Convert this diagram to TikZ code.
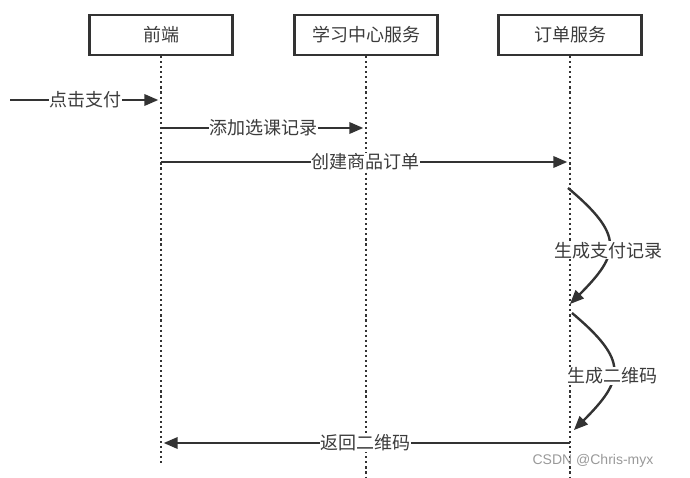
\documentclass[tikz,border=0pt]{standalone}
\usepackage{fontspec}
\newfontfamily\cjk{Noto Sans CJK SC}
\newfontfamily\wmfont{Liberation Sans}
\usetikzlibrary{arrows.meta}
\definecolor{ink}{HTML}{333333}
\definecolor{txt}{HTML}{3C3C3C}
\tikzset{
  actor/.style={draw=ink, line width=2.2pt, minimum width=107pt, minimum height=30pt,
    font=\cjk\fontsize{13.5}{15}\selectfont, text=txt, inner sep=0pt},
  lifeline/.style={ink, line width=1.8pt, dash pattern=on 1.6pt off 2.2pt},
  msg/.style={ink, line width=1.8pt, -{Triangle[length=10.5pt,width=8.5pt]}, shorten >=2pt},
  lbl/.style={fill=white, font=\cjk\fontsize{13.5}{15}\selectfont, text=txt, inner sep=0.5pt}
}
\begin{document}
\begin{tikzpicture}[x=0.75pt,y=-0.75pt]
  \useasboundingbox (0,0) rectangle (690,478);

  % lifelines
  \coordinate (fe-end) at (161,466);
  \coordinate (lc-end) at (366,478);
  \coordinate (os-end) at (570,478);
  \draw[lifeline] (161,56) -- (fe-end);
  \draw[lifeline] (366,56) -- (lc-end);
  \draw[lifeline] (570,56) -- (os-end);

  % actor boxes
  \node[actor, fill=white] (fe) at (161,35) {前端};
  \node[actor, fill=white] (lc) at (366,35) {学习中心服务};
  \node[actor, fill=white] (os) at (570,35) {订单服务};

  % message points
  \coordinate (start) at (10,100);
  \coordinate (fe1) at (fe |- 0,100);
  \coordinate (fe2) at (fe |- 0,128);
  \coordinate (lc2) at (lc |- 0,128);
  \coordinate (fe3) at (fe |- 0,162);
  \coordinate (os3) at (os |- 0,162);
  \coordinate (os4) at (568,188);
  \coordinate (os5) at (568,306);
  \coordinate (os6) at (572,313);
  \coordinate (os7) at (572,432);
  \coordinate (os8) at (os |- 0,443);
  \coordinate (fe8) at (fe |- 0,443);

  % messages
  \draw[msg] (start) -- node[lbl] {点击支付} (fe1);
  \draw[msg] (fe2) -- node[lbl] {添加选课记录} (lc2);
  \draw[msg] (fe3) -- node[lbl] {创建商品订单} (os3);
  \draw[msg] (os4) to[out=-40,in=45,looseness=1.6] node[lbl, pos=0.55] {生成支付记录} (os5);
  \draw[msg] (os6) to[out=-40,in=45,looseness=1.6] node[lbl, pos=0.55] {生成二维码} (os7);
  \draw[msg] (os8) -- node[lbl] {返回二维码} (fe8);

  % watermark
  \node[font=\wmfont\fontsize{10.5}{12}\selectfont, text=black!40] (wm) at (593,461) {CSDN @Chris-myx};
\end{tikzpicture}
\end{document}
